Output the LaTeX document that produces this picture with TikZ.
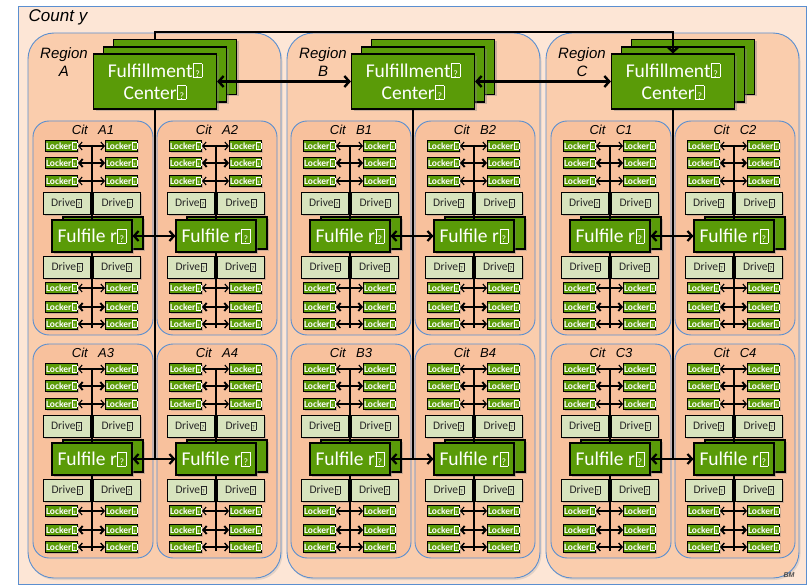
\documentclass[tikz,border=0pt]{standalone}
\usepackage{fontspec}
\setmainfont{Carlito}
\newfontfamily\arialfont{Liberation Sans}
\usetikzlibrary{arrows.meta, positioning, shadows}

\definecolor{countryfill}{HTML}{FDE6D6}
\definecolor{regionfill}{HTML}{FACDAD}
\definecolor{cityfill}{HTML}{F8C19D}
\definecolor{edgeblue}{HTML}{5B8FD0}
\definecolor{fcgreen}{HTML}{5A9B08}
\definecolor{drivefill}{HTML}{D8E4BE}

% missing-glyph box as printed in the picture
\newcommand\qb{\kern0.6pt{\fboxsep=0pt\fboxrule=0.4pt\fbox{\makebox[0.42em]{\rule{0pt}{0.68em}\scalebox{0.5}{?}}}}}

\begin{document}
\begin{tikzpicture}[x=1pt, y=-1pt,
    country/.style={draw=edgeblue, fill=countryfill, minimum width=788pt, minimum height=578pt, inner sep=0pt},
    region/.style={draw=edgeblue, fill=regionfill, rounded corners=26pt, minimum width=253pt, minimum height=545pt, inner sep=0pt, line width=0.9pt, drop shadow={opacity=0.2, shadow xshift=1.5pt, shadow yshift=-2pt}},
    city/.style={draw=edgeblue, fill=cityfill, rounded corners=16pt, minimum width=120pt, minimum height=214pt, inner sep=0pt, line width=0.9pt},
    lbl/.style={font=\arialfont\itshape, align=center, inner sep=0pt},
    fc/.style={draw=black, fill=fcgreen, text=white, line width=1.1pt, minimum width=123pt, minimum height=55pt, align=center, inner sep=0pt, font=\fontsize{19.5}{22}\selectfont, drop shadow={opacity=0.4, shadow xshift=2pt, shadow yshift=-2pt}},
    ful/.style={fc, minimum width=80pt, minimum height=32pt},
    locker/.style={draw=black, fill=fcgreen, text=white, line width=0.9pt, minimum width=32pt, minimum height=11pt, inner sep=0pt, font=\bfseries\fontsize{9.5}{10}\selectfont, drop shadow={opacity=0.35, shadow xshift=1.2pt, shadow yshift=-1.2pt}},
    drive/.style={draw=black, fill=drivefill, text=black!85, line width=0.9pt, minimum width=47pt, minimum height=22pt, inner sep=0pt, font=\fontsize{11.5}{12}\selectfont, drop shadow={opacity=0.35, shadow xshift=1.5pt, shadow yshift=-1.5pt}},
    bigarr/.style={{Straight Barb[length=5pt,width=11pt]}-{Straight Barb[length=5pt,width=11pt]}, line width=2.4pt},
    busarr/.style={-{Straight Barb[length=5pt,width=11pt]}, line width=2.4pt},
    midarr/.style={{Straight Barb[length=4.5pt,width=10pt]}-{Straight Barb[length=4.5pt,width=10pt]}, line width=2.2pt},
    lkarr/.style={{Straight Barb[length=3.5pt,width=8pt]}-{Straight Barb[length=3.5pt,width=8pt]}},
    rline/.style={line width=2.6pt},
    cline/.style={line width=1.5pt},
]
\useasboundingbox (0,0) rectangle (807,586);

\node[country] (country) at (412,295) {};
\node[lbl, font=\arialfont\itshape\fontsize{17}{20}\selectfont] (countrylbl) at (58,17) {Count y};

\foreach \r/\rl/\lx in {A/28/155, B/287/413, C/546/673} {
  \node[region] (reg\r) at ({\rl+126.5},305.5) {};
  \node[lbl, font=\arialfont\itshape\fontsize{15}{18}\selectfont] (rl\r) at ({\rl+36},62) {Region\\\r};

  % fulfillment center, three stacked sheets
  \node[fc] (fcb\r) at ({\lx+20},67) {};
  \node[fc] (fcm\r) at ({\lx+10},74.5) {};
  \node[fc] (fc\r) at (\lx,81.5) {Fulfillment\qb\\Center\qb};

  \foreach \k/\dx/\cy in {1/-122/121, 2/2/121, 3/-122/344, 4/2/344} {
    \pgfmathsetmacro\cx{\lx+\dx}
    \node[city] (city\r\k) at ({\cx+60},{\cy+107}) {};
    \node[lbl, font=\arialfont\itshape\fontsize{13}{15}\selectfont] (cl\r\k) at ({\cx+60},{\cy+9}) {Cit\hspace{0.8em}\r\k};

    \foreach \j/\ly/\lw in {1/25/1.1, 2/42/1.9, 3/60/1.1, 4/167/1.1, 5/186/1.9, 6/203/1.4} {
      \node[locker] (lk\r\k l\j) at ({\cx+28.5},{\cy+\ly}) {Locker\qb};
      \node[locker] (lk\r\k r\j) at ({\cx+88.5},{\cy+\ly}) {Locker\qb};
      \draw[lkarr, line width=\lw pt] (lk\r\k l\j) -- (lk\r\k r\j);
    }

    \node[drive] (du\r\k l) at ({\cx+33.5},{\cy+82}) {Drive\qb};
    \node[drive] (du\r\k r) at ({\cx+84},{\cy+82}) {Drive\qb};
    \node[drive] (dd\r\k l) at ({\cx+34},{\cy+146}) {Drive\qb};
    \node[drive] (dd\r\k r) at ({\cx+83.5},{\cy+146}) {Drive\qb};

    \node[ful] (fb\r\k) at ({\cx+70},{\cy+112}) {};
    \node[ful] (ff\r\k) at ({\cx+59},{\cy+115}) {Fulfile r\qb};

    \coordinate (ct\r\k) at ({\cx+59},{\cy+24});
    \coordinate (cb\r\k) at ({\cx+59},{\cy+207});
    \draw[cline] (ct\r\k) -- (ff\r\k);
    \draw[cline] (ff\r\k) -- (cb\r\k);
  }

  \coordinate (jb\r) at (\lx,459);
  \draw[rline] (fc\r) -- (jb\r);
  \draw[midarr] (ff\r1) -- (ff\r2);
  \draw[midarr] (ff\r3) -- (ff\r4);
}

\draw[bigarr] (fcA) -- (fcB);
\draw[bigarr] (fcB) -- (fcC);
\coordinate (busL) at (155,32);
\coordinate (busR) at (673,32);
\draw[busarr] (fcbA.north -| fcA) -- (busL) -- (busR) -- (fcC.north);

\node[lbl, font=\arialfont\itshape\bfseries\fontsize{7}{8}\selectfont, text=black!70] (bm) at (789,575) {BM};

\end{tikzpicture}
\end{document}
